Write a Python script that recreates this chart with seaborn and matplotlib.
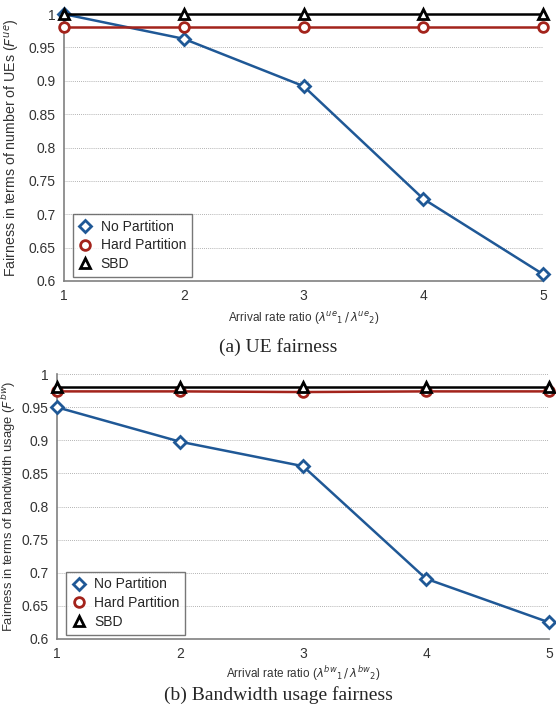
import pandas as pd
import seaborn as sns
import matplotlib.pyplot as plt

# Arrival rate ratio
ratio = [1, 2, 3, 4, 5]

# (a) UE fairness
ue_no_partition = [1.0, 0.963, 0.892, 0.723, 0.610]
ue_hard_partition = [0.98, 0.98, 0.98, 0.98, 0.98]
ue_sbd = [1.0, 1.0, 1.0, 1.0, 1.0]

# (b) Bandwidth usage fairness
bw_no_partition = [0.950, 0.898, 0.861, 0.691, 0.625]
bw_hard_partition = [0.974, 0.974, 0.973, 0.974, 0.974]
bw_sbd = [0.980, 0.980, 0.980, 0.980, 0.980]

series_names = ["No Partition", "Hard Partition", "SBD"]
colors = ["#1f5896", "#a3231b", "#000000"]
markers = ["D", "o", "^"]
yticks = [0.6, 0.65, 0.7, 0.75, 0.8, 0.85, 0.9, 0.95, 1]
ytick_labels = ["0.6", "0.65", "0.7", "0.75", "0.8", "0.85", "0.9", "0.95", "1"]

sns.set_style("white")
plt.rcParams["font.family"] = ["Liberation Sans", "DejaVu Sans"]
plt.rcParams["mathtext.fontset"] = "dejavusans"

fig = plt.figure(figsize=(5.56, 7.06), dpi=100)
ax_top = fig.add_axes([0.115, 0.602, 0.862, 0.378])
ax_bot = fig.add_axes([0.1025, 0.095, 0.885, 0.375])


def draw_panel(ax, values, ylabel, xlabel, ylabel_x, ylabel_size, xlabel_pad):
    for name, vals, c, m in zip(series_names, values, colors, markers):
        df = pd.DataFrame({"ratio": ratio, "fairness": vals})
        sns.lineplot(data=df, x="ratio", y="fairness", ax=ax, color=c, marker=m,
                     markersize=6 if m == "D" else 7, markerfacecolor="white",
                     markeredgecolor=c, markeredgewidth=2, linewidth=1.8,
                     label=name, clip_on=False, zorder=3)
    ax.set_xlim(1, 5)
    ax.set_ylim(0.6, 1.0)
    ax.set_xticks(ratio)
    ax.set_yticks(yticks)
    ax.set_yticklabels(ytick_labels)
    ax.grid(axis="y", linestyle=(0, (1, 1.5)), color="#9a9a9a", linewidth=0.6)
    ax.set_axisbelow(True)
    for s in ["top", "right"]:
        ax.spines[s].set_visible(False)
    for s in ["left", "bottom"]:
        ax.spines[s].set_color("#808080")
        ax.spines[s].set_linewidth(1.2)
    ax.tick_params(axis="both", labelsize=10, colors="#333333", length=0, pad=6)
    ax.set_ylabel(ylabel, fontsize=ylabel_size, color="#333333")
    ax.yaxis.set_label_coords(ylabel_x, 0.5)
    ax.set_xlabel(xlabel, fontsize=8.5, color="#333333", labelpad=xlabel_pad)
    leg = ax.legend(loc="lower left", fontsize=10, frameon=True, fancybox=False,
                    borderaxespad=0.3, handlelength=1.0, handletextpad=0.6,
                    borderpad=0.4, labelspacing=0.35, bbox_to_anchor=(0.01, 0.0))
    leg.get_frame().set_edgecolor("#555555")
    leg.get_frame().set_linewidth(1.0)
    for h in leg.legend_handles:
        h.set_linestyle("none")


draw_panel(ax_top, [ue_no_partition, ue_hard_partition, ue_sbd],
           r"Fairness in terms of number of UEs ($F^{ue}$)",
           r"Arrival rate ratio ($\lambda^{ue}{}_{1}\,/\,\lambda^{ue}{}_{2}$)",
           -0.088, 10.2, 5)
draw_panel(ax_bot, [bw_no_partition, bw_hard_partition, bw_sbd],
           r"Fairness in terms of bandwidth usage ($F^{bw}$)",
           r"Arrival rate ratio ($\lambda^{bw}{}_{1}\,/\,\lambda^{bw}{}_{2}$)",
           -0.079, 9.4, 2)

fig.text(0.5, 1 - 347 / 706, "(a) UE fairness", ha="center", va="center",
         fontsize=14, family=["Liberation Serif", "DejaVu Serif"])
fig.text(0.5, 1 - 695 / 706, "(b) Bandwidth usage fairness", ha="center", va="center",
         fontsize=14, family=["Liberation Serif", "DejaVu Serif"])

fig.savefig("out.png", dpi=100)
